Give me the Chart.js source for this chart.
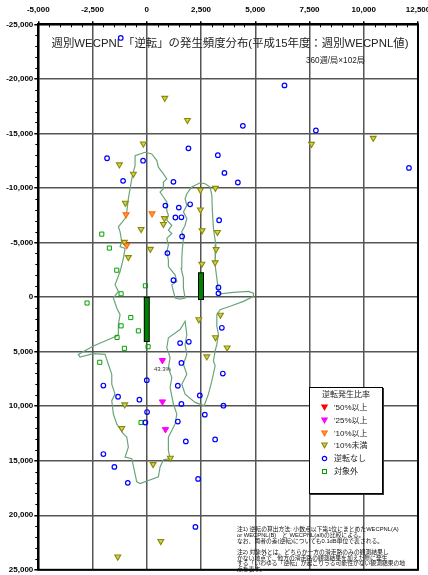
<!DOCTYPE html>
<html>
<head>
<meta charset="utf-8">
<script src="https://cdn.jsdelivr.net/npm/chart.js@4/dist/chart.umd.min.js"></script>
<style>
  html, body { margin: 0; padding: 0; background: #fff; }
  #wrap { position: relative; width: 428px; height: 575px; overflow: hidden; font-family: "Liberation Sans", Arial, "Noto Sans CJK JP", sans-serif; }
  #wrap canvas { position: absolute; left: 0; top: 0; }
  .abs { position: absolute; white-space: nowrap; color: #000; line-height: 1; }
  #title { left: 230px; top: 37.5px; font-size: 11.4px; color: #222; transform: translateX(-50%); }
  #sub { left: 306px; top: 57px; font-size: 8.2px; color: #222; }
  #legend { left: 309px; top: 387px; width: 72px; height: 105px; border: 1px solid #000; background: #fff; box-shadow: 1px 1px 0 #333; }
  #legend .lt { position: absolute; left: 0; width: 72px; text-align: center; top: 3px; font-size: 8px; color: #222; }
  #legend .row { position: absolute; left: 10px; font-size: 8px; color: #222; }
  #legend svg { vertical-align: middle; margin-right: 5px; }
  .note { font-size: 5.8px; left: 237px; color: #111; }
</style>
</head>
<body>
<div id="wrap">
  <canvas id="chart" width="428" height="575"></canvas>
  <div id="title" class="abs">週別WECPNL「逆転」の発生頻度分布(平成15年度：週別WECPNL値)</div>
  <div id="sub" class="abs">360週/局×102局</div>
  <div id="legend" class="abs"></div>
  <div id="notes"></div>
</div>
<script>
// axis ticks
const xTicks = [-5000, -2500, 0, 2500, 5000, 7500, 10000, 12500];
const yTicks = [-25000, -20000, -15000, -10000, -5000, 0, 5000, 10000, 15000, 20000, 25000];

// points by reversal category [x, y]
const over50 = [];
const over25 = [[720, 5800], [720, 9590], [860, 12130]];
const over10 = [[-955, -7560], [244, -7650], [-922, -4740]];
const under10 = [
  [830, -18240], [1873, -16210], [-157, -14050], [7592, -14020], [10437, -14570],
  [-1263, -12140], [-618, -11290], [2472, -9810], [3164, -9990], [-987, -8620],
  [2472, -8010], [812, -7220], [766, -6680], [-263, -6220], [2550, -6100],
  [3256, -5950], [-1033, -5040], [166, -4400], [3196, -4370], [-849, -3640],
  [2537, -3040], [3150, -3160], [2398, 2060], [3394, 1640], [3164, 3700],
  [3703, 4640], [2767, 5460], [-1015, 9860], [-1153, 12020], [291, 15330],
  [1088, 14750], [646, 22380], [-1337, 23800]
];
const noReversal = [
  [-1200, -23750], [6347, -19400], [4428, -15690], [7794, -15270], [3275, -13000],
  [1920, -13630], [-1831, -12720], [-171, -12500], [12083, -11840], [3579, -11380],
  [-1093, -10650], [1228, -10560], [4197, -10500], [858, -8380], [1476, -8200],
  [1997, -8500], [1319, -7290], [1596, -7310], [3334, -7040], [1628, -5560],
  [950, -4030], [1228, -1550], [3303, -880], [3303, -340], [3459, 2820],
  [1536, 4220], [1937, 4100], [1596, 6040], [3505, 7010], [0, 7620],
  [-2001, 8110], [1430, 8130], [2444, 9020], [-1324, 9140], [-341, 9410],
  [1596, 9800], [3533, 9960], [14, 10540], [2675, 10780], [-64, 11500],
  [1430, 11410], [1799, 13230], [3150, 13050], [-2001, 14390], [-1494, 15570],
  [-876, 17030], [2366, 16670], [2241, 21070]
];
const excluded = [
  [-2075, -5770], [-1725, -4490], [-1384, -2460], [-64, -1030], [-1185, -300],
  [-2753, 546], [-738, 1880], [-1185, 2640], [-387, 3100], [-1370, 3700],
  [-1033, 4700], [60, 4550], [-2168, 5980], [-263, 11500]
];
const over25Label = '43.3%';

// noise contour outline [x, y]
const contour = [
  [-80, -13270], [231, -13114], [461, -12504], [535, -11903], [766, -11293], [922, -10837],
  [766, -10537], [766, -9927], [613, -9626], [766, -9171], [922, -8715], [922, -7950],
  [996, -7495], [922, -7040], [1153, -6584], [996, -6129], [1153, -5828], [922, -5373],
  [996, -4763], [922, -4162], [996, -3397], [996, -2796], [1305, -2031], [1384, -1430],
  [1153, -1120], [1227, -519], [1305, 91], [1536, 182], [1766, 91], [1688, -820],
  [1688, -1730], [1582, -2641], [1614, -3552], [1642, -4462], [1688, -5373], [1614, -5983],
  [1766, -6584], [1845, -7195], [1688, -7805], [1845, -8406], [1766, -9016], [1845, -9471],
  [2075, -10081], [2458, -10473], [2689, -10382], [2919, -10081], [2998, -9316], [3025, -7805],
  [3072, -6284], [3182, -4763], [3150, -2941], [3228, -1730], [3302, -519], [3381, -301],
  [3994, -428], [4686, -519], [4916, -364], [4916, -64], [4455, 392], [3842, 847],
  [3381, 1157], [3228, 1612], [3228, 2668], [3302, 3433], [3228, 4344], [3150, 4945],
  [3072, 5856], [3150, 6311], [2998, 7677], [2841, 8897], [2643, 9954], [2228, 9653],
  [1766, 8897], [1614, 7987], [1845, 7076], [1688, 6165], [1845, 5255], [1766, 4344],
  [1845, 3433], [1766, 2213], [1536, 2978], [996, 3734], [922, 4645], [1075, 5555],
  [996, 6466], [1153, 7377], [1075, 8287], [1227, 9808], [1384, 10719], [1305, 11630],
  [996, 12841], [996, 14052], [1075, 14817], [766, 14908], [613, 15573], [535, 16484],
  [-309, 17094], [-461, 16939], [-692, 14817], [-1001, 14662], [-849, 13752], [-922, 12841],
  [-1079, 12540], [-1384, 11630], [-1540, 10719], [-1614, 9499], [-1462, 8897], [-1614, 7987],
  [-1614, 7076], [-1771, 6165], [-1923, 5255], [-2463, 5191], [-3076, 5492], [-3155, 5255],
  [-2463, 4490], [-1384, 3579], [-1310, 3433], [-1310, 2523], [-1231, 1612], [-1384, 1002],
  [-1540, 91], [-1310, -519], [-1462, -1120], [-1231, -2340], [-1079, -3552], [-1001, -4462],
  [-1231, -4617], [-1153, -5073], [-1231, -5983], [-1310, -6439], [-1001, -7195], [-922, -7805],
  [-849, -9016], [-770, -9927], [-692, -10837], [-618, -11447], [-540, -12049], [-540, -12959],
  [-80, -13270]
];
// runways: [x, yStart, yEnd]
const runways = [[0, 250, 3850], [2500, -2000, 0]];

const legendItems = [
  { label: "'50%以上", shape: 'tri', stroke: '#ff0000', fill: '#ff0000' },
  { label: "'25%以上", shape: 'tri', stroke: '#ff00ff', fill: '#ff00ff' },
  { label: "'10%以上", shape: 'tri', stroke: '#ff6a00', fill: '#ff9a50' },
  { label: "'10%未満", shape: 'tri', stroke: '#8a8a00', fill: '#cfcf60' },
  { label: '逆転なし', shape: 'circle', stroke: '#0000ff', fill: 'none' },
  { label: '対象外', shape: 'rect', stroke: '#00a000', fill: 'none' }
];

const noteLines = [
  ['注1) 逆転の算出方法: 小数点以下第1位にまとめたWECPNL(A)', 527],
  ['or WECPNL(B)　と WECPNL(all)の比較による。', 532.5],
  ['なお、両者の差(逆転)についても0.1dB単位で表される。', 538.5],
  ['注2) 対象外とは、どちらか一方の滑走路のみの観測結果し', 550],
  ['かない地点で、他方の滑走路の観測結果を加えた際に発生', 555.7],
  ['する「いわゆる「逆転」が起こりうる可能性がない観測結果の地', 561.3],
  ['点を表す。', 567]
];

const toXY = arr => arr.map(p => ({ x: p[0], y: p[1] }));

function runwayData() {
  const out = [];
  runways.forEach(r => {
    out.push({ x: r[0], y: r[1] }, { x: r[0], y: r[2] }, { x: r[0], y: null });
  });
  return out;
}

// legend in html
function buildLegend() {
  const box = document.getElementById('legend');
  box.innerHTML = '<div class="lt">逆転発生比率</div>';
  legendItems.forEach((it, i) => {
    let sym = '';
    if (it.shape === 'tri') {
      sym = `<polygon points="1.8,2 7.2,2 4.5,6.8" fill="${it.fill}" stroke="${it.stroke}" stroke-width="1.1"/>`;
    } else if (it.shape === 'circle') {
      sym = `<circle cx="4.5" cy="4.5" r="2.2" fill="none" stroke="${it.stroke}" stroke-width="1.2"/>`;
    } else {
      sym = `<rect x="2.5" y="2.5" width="4" height="4" fill="none" stroke="${it.stroke}" stroke-width="1"/>`;
    }
    const row = document.createElement('div');
    row.className = 'row';
    row.style.top = (15 + i * 12.8) + 'px';
    row.innerHTML = `<svg width="9" height="9">${sym}</svg>${it.label}`;
    box.appendChild(row);
  });
}

function buildNotes() {
  const wrap = document.getElementById('notes');
  noteLines.forEach(n => {
    const d = document.createElement('div');
    d.className = 'abs note';
    d.style.top = n[1] + 'px';
    d.textContent = n[0];
    wrap.appendChild(d);
  });
}

// minor ticks, frame and point label
const extrasPlugin = {
  id: 'extras',
  afterDatasetsDraw(chart) {
    const { ctx, scales } = chart;
    ctx.save();
    ctx.fillStyle = '#333';
    ctx.font = '6px "Liberation Sans", Arial, sans-serif';
    ctx.textAlign = 'center';
    ctx.textBaseline = 'middle';
    const p = over25[0];
    ctx.fillText(over25Label, scales.x.getPixelForValue(p[0]), scales.y.getPixelForValue(p[1]) + 9.5);
    ctx.restore();
  },
  afterDraw(chart) {
    const { ctx, chartArea, scales } = chart;
    ctx.save();
    ctx.strokeStyle = '#000';
    ctx.lineWidth = 1;
    ctx.beginPath();
    for (let v = xTicks[0]; v <= xTicks[xTicks.length - 1]; v += 500) {
      if (v % 2500 === 0) continue;
      const px = Math.round(scales.x.getPixelForValue(v)) + 0.5;
      ctx.moveTo(px, chartArea.top);
      ctx.lineTo(px, chartArea.top + 3);
    }
    for (let v = yTicks[0]; v <= yTicks[yTicks.length - 1]; v += 1000) {
      if (v % 5000 === 0) continue;
      const py = Math.round(scales.y.getPixelForValue(v)) + 0.5;
      ctx.moveTo(chartArea.left - 3, py);
      ctx.lineTo(chartArea.left, py);
    }
    ctx.stroke();
    ctx.lineWidth = 2;
    ctx.strokeRect(chartArea.left, chartArea.top, chartArea.right - chartArea.left, chartArea.bottom - chartArea.top);
    ctx.restore();
  }
};

function renderChart() {
  const ctx = document.getElementById('chart').getContext('2d');
  const pointSet = (label, data, style, radius, border, bg, width, order) => ({
    type: 'scatter', label, data: toXY(data), pointStyle: style, pointRadius: radius,
    pointRotation: style === 'triangle' ? 180 : 0, borderColor: border, backgroundColor: bg,
    pointBorderWidth: width, order
  });

  window.wecpnlChart = new Chart(ctx, {
    type: 'scatter',
    data: {
      datasets: [
        pointSet("'50%以上", over50, 'triangle', 3.4, '#ff0000', '#ff0000', 1, 1),
        pointSet("'25%以上", over25, 'triangle', 3.6, '#ff00ff', '#ff00ff', 1, 1),
        pointSet("'10%以上", over10, 'triangle', 3.4, '#ff6a00', '#ff9a50', 1.1, 1),
        pointSet("'10%未満", under10, 'triangle', 3.4, '#8a8a00', '#cfcf60', 1.1, 1),
        pointSet('逆転なし', noReversal, 'circle', 2.3, '#0000ff', 'rgba(0,0,0,0)', 1.2, 1),
        pointSet('対象外', excluded, 'rect', 2.9, '#00a000', 'rgba(0,0,0,0)', 1, 1),
        {
          type: 'line', label: 'runway', data: runwayData(), borderColor: '#008000',
          borderWidth: 4, borderCapStyle: 'square', pointRadius: 0, spanGaps: false, order: 5
        },
        {
          type: 'line', label: 'runwayEdge', data: runwayData(), borderColor: '#000',
          borderWidth: 6, borderCapStyle: 'square', pointRadius: 0, spanGaps: false, order: 6
        },
        {
          type: 'line', label: 'contour', data: toXY(contour), borderColor: '#6aa57a',
          borderWidth: 1.2, pointRadius: 0, fill: false, tension: 0, order: 7
        }
      ]
    },
    options: {
      responsive: false,
      animation: false,
      layout: { padding: { left: 0, top: 0, right: 10, bottom: 1.7 } },
      plugins: { legend: { display: false }, tooltip: { enabled: false } },
      scales: {
        x: {
          type: 'linear', position: 'top', min: -5000, max: 12500,
          afterBuildTicks: s => { s.ticks = xTicks.map(v => ({ value: v })); },
          afterFit: s => { s.height = 24.3; s.paddingLeft = 0; s.paddingRight = 0; },
          ticks: {
            autoSkip: false, maxRotation: 0, padding: 7, color: '#000',
            font: { family: '"Liberation Sans", Arial, sans-serif', size: 8, weight: 'bold' },
            callback: v => v.toLocaleString('en-US')
          },
          grid: { color: '#555', lineWidth: 1.5, tickLength: 3, tickColor: '#000' },
          border: { color: '#000', width: 2 }
        },
        y: {
          type: 'linear', position: 'left', min: -25000, max: 25000, reverse: true,
          afterBuildTicks: s => { s.ticks = yTicks.map(v => ({ value: v })); },
          afterFit: s => { s.width = 38.3; s.paddingTop = 0; s.paddingBottom = 0; },
          ticks: {
            autoSkip: false, padding: 1, color: '#000',
            font: { family: '"Liberation Sans", Arial, sans-serif', size: 8, weight: 'bold' },
            callback: v => v.toLocaleString('en-US')
          },
          grid: { color: '#555', lineWidth: 1.5, tickLength: 4, tickColor: '#000' },
          border: { color: '#000', width: 2 }
        }
      }
    },
    plugins: [extrasPlugin]
  });
}

document.addEventListener('DOMContentLoaded', () => {
  buildLegend();
  buildNotes();
  renderChart();
});
</script>
</body>
</html>
